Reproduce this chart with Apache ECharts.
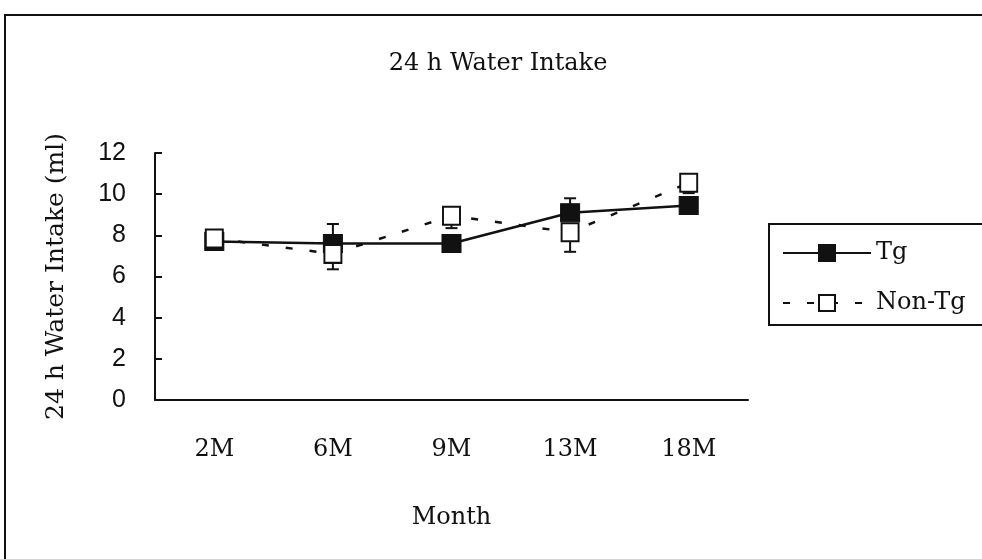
<!DOCTYPE html>
<html>
<head>
<meta charset="utf-8">
<script src="https://cdn.jsdelivr.net/npm/echarts@6/dist/echarts.min.js"></script>
<style>
  html, body { margin: 0; padding: 0; background: #fff; }
  #chart { width: 982px; height: 559px; }
</style>
</head>
<body>
<div id="chart"></div>
<script>
// Months of measurement
const months = ['2M', '6M', '9M', '13M', '18M'];
// Mean 24 h water intake (ml)
const tgValues = [7.7, 7.6, 7.6, 9.1, 9.45];
const nonTgValues = [7.85, 7.1, 8.95, 8.15, 10.55];
// Error bar ends (null where no bar is shown)
const tgErrHigh = [null, 8.55, null, 9.8, null];
const nonTgErrLow = [null, 6.35, 8.35, 7.2, 10.05];
// Y axis ticks
const yTicks = { min: 0, max: 12, interval: 2 };

const serif = '"DejaVu Serif", "Liberation Serif", serif';
const sans = '"Liberation Sans", Arial, sans-serif';

function errData(values, ends) {
  const out = [];
  ends.forEach((e, i) => { if (e !== null) out.push([i, values[i], e]); });
  return out;
}

function errRender(params, api) {
  const x = api.value(0);
  const p1 = api.coord([x, api.value(1)]);
  const p2 = api.coord([x, api.value(2)]);
  const cap = 6;
  const style = { stroke: '#111', lineWidth: 2 };
  return {
    type: 'group',
    children: [
      { type: 'line', shape: { x1: p1[0], y1: p1[1], x2: p2[0], y2: p2[1] }, style: style },
      { type: 'line', shape: { x1: p2[0] - cap, y1: p2[1], x2: p2[0] + cap, y2: p2[1] }, style: style }
    ]
  };
}

const chart = echarts.init(document.getElementById('chart'), null, { renderer: 'canvas' });
chart.setOption({
  backgroundColor: '#fff',
  animation: false,
  title: {
    text: '24 h Water Intake',
    left: 493, top: 47, textAlign: 'center',
    textStyle: { fontFamily: serif, fontSize: 24, fontWeight: 'normal', color: '#111' }
  },
  grid: { left: 155, right: 234, top: 153, bottom: 159 },
  legend: {
    left: 769, top: 224,
    orient: 'vertical',
    padding: [17, 200, 10, 13],
    itemGap: 26,
    itemWidth: 88, itemHeight: 20,
    borderColor: '#111', borderWidth: 2,
    textStyle: { fontFamily: serif, fontSize: 24, color: '#111' },
    data: ['Tg', 'Non-Tg']
  },
  xAxis: {
    type: 'category',
    data: months,
    boundaryGap: true,
    name: 'Month',
    nameLocation: 'middle',
    nameGap: 106,
    nameTextStyle: { fontFamily: serif, fontSize: 24, color: '#111' },
    axisLine: { lineStyle: { color: '#111', width: 2 } },
    axisTick: { inside: true, length: 7, lineStyle: { color: '#111', width: 2 } },
    axisLabel: { fontFamily: serif, fontSize: 24, color: '#111', margin: 38 },
    splitLine: { show: false }
  },
  yAxis: {
    type: 'value',
    min: yTicks.min, max: yTicks.max, interval: yTicks.interval,
    name: '24 h Water Intake (ml)',
    nameLocation: 'middle',
    nameGap: 86,
    nameTextStyle: { fontFamily: serif, fontSize: 25, color: '#111' },
    axisLine: { show: true, lineStyle: { color: '#111', width: 2 } },
    axisTick: { show: true, inside: true, length: 7, lineStyle: { color: '#111', width: 2 } },
    axisLabel: { fontFamily: sans, fontSize: 25, color: '#111', margin: 29 },
    splitLine: { show: false }
  },
  graphic: [{
    type: 'rect',
    shape: { x: 5, y: 15, width: 1200, height: 800 },
    style: { fill: 'none', stroke: '#111', lineWidth: 2 },
    silent: true, z: 100
  }],
  series: [
    {
      type: 'custom',
      name: 'TgErr',
      renderItem: errRender,
      data: errData(tgValues, tgErrHigh),
      z: 1
    },
    {
      type: 'custom',
      name: 'NonTgErr',
      renderItem: errRender,
      data: errData(nonTgValues, nonTgErrLow),
      z: 1
    },
    {
      type: 'line',
      name: 'Tg',
      data: tgValues,
      symbol: 'rect',
      symbolSize: [19, 18],
      lineStyle: { color: '#111', width: 2.5 },
      itemStyle: { color: '#111', borderColor: '#111', borderWidth: 1 },
      z: 3
    },
    {
      type: 'line',
      name: 'Non-Tg',
      data: nonTgValues,
      symbol: 'rect',
      symbolSize: [17, 18],
      lineStyle: { color: '#111', width: 2.5, type: [7, 17] },
      itemStyle: { color: '#fff', borderColor: '#111', borderWidth: 2 },
      z: 4
    }
  ]
});
</script>
</body>
</html>
